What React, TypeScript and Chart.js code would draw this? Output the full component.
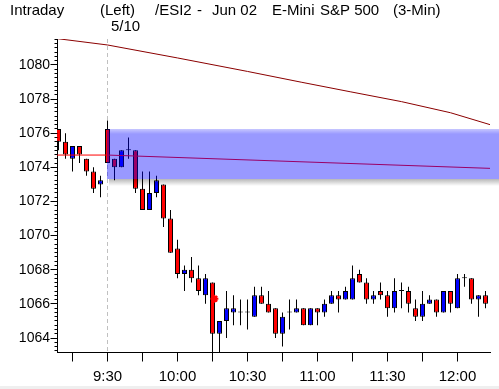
import React, { useEffect, useRef } from 'react';
import { Chart, registerables } from 'chart.js';

Chart.register(...registerables);

// ---- data ----
const candleTimes = ['9:09','9:12','9:15','9:18','9:21','9:24','9:27','9:30','9:33','9:36','9:39','9:42','9:45','9:48','9:51','9:54','9:57',
  '10:00','10:03','10:06','10:09','10:12','10:15','10:18','10:21','10:24','10:27','10:30','10:33','10:36','10:39','10:42','10:45','10:48','10:51','10:54','10:57',
  '11:00','11:03','11:06','11:09','11:12','11:15','11:18','11:21','11:24','11:27','11:30','11:33','11:36','11:39','11:42','11:45','11:48','11:51','11:54','11:57',
  '12:00','12:03','12:06','12:09','12:12'];

const opens = [1076.25, 1075.5, 1074.5, 1075.25, 1074.5, 1073.75, 1073,
  1076.25, 1074.5, 1074, 1075, 1075, 1072.75, 1071.5, 1072.5, 1073, 1071,
  1069.25, 1067.75, 1068, 1067.5, 1066.5, 1067.25, 1064.25, 1065, 1065.5, 1065.5,
  1065.5, 1065.25, 1066.5, 1066, 1065.75, 1064.25, 1065.5, 1065.5, 1065.75, 1064.75,
  1065.75, 1065.5, 1066, 1066.5, 1066.25, 1066.25, 1067.75, 1067.25, 1066.25, 1066.75,
  1066.5, 1065.75, 1066.75, 1066.75, 1065.75, 1065.25, 1066, 1066.25, 1065.5, 1066.75,
  1065.75, 1067.5, 1067.5, 1066.25, 1066.5];
const highs = [1076.25, 1076, 1075.25, 1075.25, 1074.5, 1074, 1073.5,
  1076.75, 1074.5, 1075, 1075.75, 1075, 1073.75, 1073.75, 1073.5, 1073, 1071.5,
  1069.75, 1068.25, 1068.75, 1068.25, 1067.75, 1067.25, 1065, 1066.75, 1066.5, 1066.25,
  1066.25, 1067, 1067, 1066.75, 1065.75, 1065.5, 1066.25, 1066.25, 1065.75, 1065.75,
  1065.75, 1066.25, 1066.75, 1066.75, 1067, 1068.25, 1068, 1067.5, 1066.75, 1067.25,
  1066.75, 1067.5, 1067.25, 1067, 1066.25, 1066.75, 1066.5, 1066.25, 1066.75, 1066.75,
  1067.75, 1067.75, 1067.5, 1066.5, 1066.75];
const lows = [1075, 1074.5, 1073.75, 1074.25, 1073.5, 1072.5, 1072.25,
  1074.25, 1073.25, 1074, 1074.5, 1072.5, 1071.5, 1071.5, 1072.25, 1070.5, 1069,
  1067.5, 1066.75, 1067.25, 1066.5, 1066, 1063, 1063, 1064, 1064.75, 1064.75,
  1064.5, 1065.25, 1066, 1065.5, 1064, 1063.5, 1064.5, 1065.5, 1064.75, 1064.75,
  1064.75, 1065.25, 1066, 1065.5, 1066.25, 1066.25, 1067.25, 1066, 1066, 1066.25,
  1065.25, 1065.5, 1065.75, 1065.5, 1065, 1065, 1066, 1065.25, 1065.5, 1065.5,
  1065.75, 1067, 1066, 1065.25, 1065.75];
const closes = [1075.5, 1074.75, 1075.25, 1074.75, 1073.75, 1072.75, 1073.25,
  1074.25, 1074, 1075, 1075, 1072.75, 1071.5, 1072.5, 1073.25, 1071, 1069,
  1067.75, 1068, 1067.5, 1066.75, 1067.5, 1064.25, 1065, 1065.75, 1065.75, 1065.5,
  1065.5, 1066.5, 1066, 1065.5, 1064.25, 1065.25, 1065.5, 1065.75, 1064.75, 1065.75,
  1065.5, 1066, 1066.5, 1066.25, 1066.75, 1067.5, 1067.25, 1066.25, 1066.5, 1066.5,
  1065.75, 1066.75, 1066.75, 1066, 1065.25, 1066, 1066.25, 1065.5, 1066.75, 1066,
  1067.5, 1067.5, 1066.25, 1066.5, 1066];

const upperLineTimes = ['9:08', '9:30', '10:00', '10:30', '10:53', '11:14', '11:36', '11:57', '12:14'];
const upperLineValues = [1081.55, 1081.17, 1080.41, 1079.62, 1078.99, 1078.43, 1077.85, 1077.2, 1076.5];

const lowerLineTimes = ['9:08', '9:30', '12:14'];
const lowerLineValues = [1074.72, 1074.72, 1073.94];

const bandStart = '9:30';
const bandEnd = '12:18';
const bandHigh = 1076.25;
const bandLow = 1073.3;

const markerTime = '10:15.8';
const markerValue = 1066.3;

const yTickLabels = [1064, 1066, 1068, 1070, 1072, 1074, 1076, 1078, 1080];
const xTickLabels = ['9:30', '10:00', '10:30', '11:00', '11:30', '12:00'];
const xTickMarks = ['9:15', '9:30', '9:45', '10:00', '10:15', '10:30', '10:45', '11:00', '11:15', '11:30', '11:45', '12:00'];
const sessionLine = '9:30';

const xBounds = [548.357, 733.929];
const yBounds = [1063.18, 1081.52];

const titleParts = [
  { text: 'Intraday', x: 10, y: 15 },
  { text: '(Left)', x: 100, y: 15 },
  { text: '5/10', x: 111, y: 31 },
  { text: '/ESI2', x: 155, y: 15 },
  { text: '-', x: 197, y: 15 },
  { text: 'Jun 02', x: 212, y: 15 },
  { text: 'E-Mini', x: 272, y: 15 },
  { text: 'S&P 500', x: 320, y: 15 },
  { text: '(3-Min)', x: 393, y: 15 },
];

const toMin = (t: string) => {
  const [h, m] = t.split(':');
  return Number(h) * 60 + Number(m);
};

const FONT = '"Liberation Sans", Arial, sans-serif';

const decorPlugin = {
  id: 'decor',
  beforeDraw(chart: any) {
    const { ctx, width, height } = chart;
    ctx.save();
    ctx.fillStyle = '#ffffff';
    ctx.fillRect(0, 0, width, height);
    ctx.fillStyle = '#efefef';
    ctx.fillRect(0, height - 3, width, 3);
    ctx.restore();
  },
  beforeDatasetsDraw(chart: any) {
    const { ctx, chartArea, scales } = chart;
    const x = Math.round(scales.x.getPixelForValue(toMin(sessionLine)) - 0.5) + 0.5;
    ctx.save();
    ctx.strokeStyle = '#c0c0c0';
    ctx.lineWidth = 1;
    ctx.setLineDash([4, 3]);
    ctx.beginPath();
    ctx.moveTo(x, chartArea.top);
    ctx.lineTo(x, chartArea.bottom);
    ctx.stroke();
    ctx.restore();
  },
  afterDatasetsDraw(chart: any) {
    const { ctx, scales } = chart;
    const x1 = Math.round(scales.x.getPixelForValue(toMin(bandStart)) - 0.5);
    const x2 = scales.x.getPixelForValue(toMin(bandEnd));
    const yT = Math.round(scales.y.getPixelForValue(bandHigh));
    const yB = Math.round(scales.y.getPixelForValue(bandLow));
    ctx.save();
    // shadow under band
    const sg = ctx.createLinearGradient(0, yB, 0, yB + 7);
    sg.addColorStop(0, 'rgba(0,0,0,0.28)');
    sg.addColorStop(1, 'rgba(0,0,0,0)');
    ctx.fillStyle = sg;
    ctx.fillRect(x1 + 2, yB, x2 - x1, 7);
    // band
    const g = ctx.createLinearGradient(0, yT, 0, yT + 5);
    g.addColorStop(0, 'rgba(0,0,255,0.22)');
    g.addColorStop(1, 'rgba(0,0,255,0.4)');
    ctx.fillStyle = g;
    ctx.fillRect(x1, yT, x2 - x1, 5);
    ctx.fillStyle = 'rgba(0,0,255,0.4)';
    ctx.fillRect(x1, yT + 5, x2 - x1, yB - yT - 5);
    ctx.restore();
  },
  afterDraw(chart: any) {
    const { ctx, chartArea, scales } = chart;
    ctx.save();
    ctx.strokeStyle = '#000';
    ctx.lineWidth = 1;
    ctx.beginPath();
    // y minor/major ticks
    const axX = chartArea.left + 0.5;
    for (let v = Math.ceil(yBounds[0] * 4) / 4; v <= yBounds[1]; v += 0.25) {
      const y = Math.round(scales.y.getPixelForValue(v) - 0.5) + 0.5;
      const major = yTickLabels.includes(v);
      ctx.moveTo(axX - (major ? 7 : 3), y);
      ctx.lineTo(axX, y);
    }
    // x ticks
    const axY = chartArea.bottom + 0.5;
    xTickMarks.forEach((t) => {
      const x = Math.round(scales.x.getPixelForValue(toMin(t)) - 0.5) + 0.5;
      ctx.moveTo(x, axY);
      ctx.lineTo(x, axY + 9);
    });
    ctx.stroke();
    // header texts
    ctx.fillStyle = '#000';
    ctx.font = '15px ' + FONT;
    ctx.textBaseline = 'alphabetic';
    ctx.textAlign = 'left';
    titleParts.forEach((p) => ctx.fillText(p.text, p.x, p.y));
    ctx.restore();
  },
};

export default function App() {
  const canvasRef = useRef<HTMLCanvasElement | null>(null);

  useEffect(() => {
    const canvas = canvasRef.current;
    if (!canvas) return;
    const xs = candleTimes.map(toMin);
    const bodyColors = opens.map((o, i) => (closes[i] > o ? '#0000ff' : closes[i] < o ? '#ff0000' : '#000000'));
    const chart = new Chart(canvas, {
      type: 'bar',
      data: {
        datasets: [
          {
            type: 'line',
            label: 'upper',
            data: upperLineTimes.map((t, i) => ({ x: toMin(t), y: upperLineValues[i] })),
            borderColor: '#8b0000',
            borderWidth: 1,
            pointRadius: 0,
            tension: 0,
            order: 1,
          } as any,
          {
            type: 'line',
            label: 'lower',
            data: lowerLineTimes.map((t, i) => ({ x: toMin(t), y: lowerLineValues[i] })),
            borderColor: '#ff0000',
            borderWidth: 1,
            pointRadius: 0,
            tension: 0,
            order: 1,
          } as any,
          {
            type: 'line',
            label: 'marker',
            data: [{ x: toMin(markerTime), y: markerValue }],
            showLine: false,
            pointStyle: 'star',
            pointRadius: 4,
            pointBorderColor: '#ff0000',
            pointBorderWidth: 2,
            order: 0,
          } as any,
          {
            type: 'bar',
            label: 'bodies',
            data: xs.map((x, i) => ({ x, y: [opens[i], closes[i]] })),
            backgroundColor: bodyColors,
            borderColor: '#000000',
            borderWidth: 1,
            borderSkipped: false,
            barThickness: 5,
            minBarLength: 1,
            grouped: false,
            inflateAmount: 0,
            order: 2,
          } as any,
          {
            type: 'bar',
            label: 'wicks',
            data: xs.map((x, i) => ({ x, y: [lows[i], highs[i]] })),
            backgroundColor: '#000000',
            borderWidth: 0,
            barThickness: 1,
            grouped: false,
            inflateAmount: 0,
            order: 3,
          } as any,
        ],
      },
      options: {
        responsive: false,
        animation: false,
        devicePixelRatio: 1,
        layout: { padding: { left: 0, right: 9, top: 39, bottom: 0 } },
        plugins: { legend: { display: false }, tooltip: { enabled: false }, title: { display: false } },
        scales: {
          x: {
            type: 'linear',
            position: 'bottom',
            min: xBounds[0],
            max: xBounds[1],
            offset: false,
            grid: { display: true, drawOnChartArea: false, drawTicks: false, offset: false },
            border: { display: true, color: '#000', width: 1 },
            afterBuildTicks: (scale: any) => {
              scale.ticks = xTickLabels.map((t) => ({ value: toMin(t) }));
            },
            afterFit: (scale: any) => {
              scale.height = 37;
            },
            ticks: {
              autoSkip: false,
              maxRotation: 0,
              padding: 16,
              color: '#000',
              font: { family: FONT, size: 15 },
              callback: (v: any) => {
                const idx = xTickLabels.findIndex((t) => toMin(t) === v);
                return idx >= 0 ? xTickLabels[idx] : '';
              },
            },
          },
          y: {
            type: 'linear',
            position: 'left',
            min: yBounds[0],
            max: yBounds[1],
            grid: { display: true, drawOnChartArea: false, drawTicks: false },
            border: { display: true, color: '#000', width: 1 },
            afterBuildTicks: (scale: any) => {
              scale.ticks = yTickLabels.map((v) => ({ value: v }));
            },
            afterFit: (scale: any) => {
              scale.width = 57;
            },
            ticks: {
              padding: 7,
              color: '#000',
              font: { family: FONT, size: 14 },
              callback: (v: any) => String(v),
            },
          },
        },
      } as any,
      plugins: [decorPlugin],
    });
    return () => chart.destroy();
  }, []);

  return (
    <div style={{ position: 'fixed', left: 0, top: 0, width: 499, height: 389, background: '#fff' }}>
      <canvas ref={canvasRef} width={499} height={389} style={{ width: 499, height: 389, display: 'block' }} />
    </div>
  );
}
